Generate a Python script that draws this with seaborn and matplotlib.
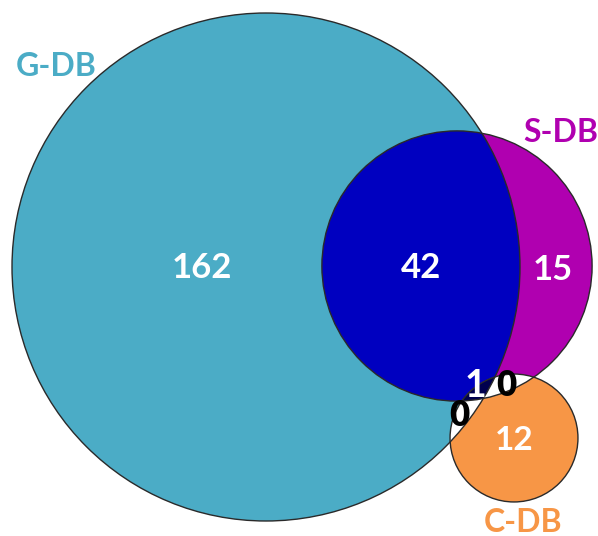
import numpy as np
import matplotlib
matplotlib.use("Agg")
import matplotlib.pyplot as plt
from matplotlib.patches import Circle, Polygon
import seaborn as sns

# region counts of the three databases
set_names = ["G-DB", "S-DB", "C-DB"]
only_g = 162
g_s = 42
only_s = 15
g_s_c = 1
s_c = 0
g_c = 0
only_c = 12

set_colors = ["#4BACC6", "#B000B0", "#F79646"]
gs_color = "#0000C0"
gsc_color = "#00004E"

# circle totals -> radius proportional to sqrt(size)
totals = [only_g + g_s + g_s_c + g_c,
          only_s + g_s + g_s_c + s_c,
          only_c + g_c + g_s_c + s_c]
scale = 17.74
radii = [scale * np.sqrt(t) for t in totals]
centers = [(266, 267), (457, 266), (514, 438)]

sns.set_theme(style="white")
plt.rcParams['font.family'] = ['Lato', 'DejaVu Sans']

fig = plt.figure(figsize=(5.98, 5.36), dpi=100)
ax = fig.add_axes([0, 0, 1, 1])
ax.set_xlim(0, 598)
ax.set_ylim(536, 0)
ax.axis("off")


def circ(i, **kw):
    return Circle(centers[i], radii[i], transform=ax.transData, **kw)


g_clip = circ(0)
s_clip = circ(1)

ax.add_patch(circ(0, facecolor=set_colors[0], edgecolor="none"))
ax.add_patch(circ(1, facecolor=set_colors[1], edgecolor="none"))
p = ax.add_patch(circ(1, facecolor=gs_color, edgecolor="none"))
p.set_clip_path(g_clip)
ax.add_patch(circ(2, facecolor=set_colors[2], edgecolor="none"))
p = ax.add_patch(circ(2, facecolor="white", edgecolor="none"))
p.set_clip_path(g_clip)
p = ax.add_patch(circ(2, facecolor="white", edgecolor="none"))
p.set_clip_path(s_clip)

# lens of S and C, then clipped to G -> triple overlap
t = np.linspace(0, 2 * np.pi, 2000)
cs, rs = np.array(centers[1]), radii[1]
cc, rc = np.array(centers[2]), radii[2]
pc = cc + rc * np.c_[np.cos(t), np.sin(t)]
ps = cs + rs * np.c_[np.cos(t), np.sin(t)]
pts = np.vstack([pc[np.linalg.norm(pc - cs, axis=1) <= rs],
                 ps[np.linalg.norm(ps - cc, axis=1) <= rc]])
m = pts.mean(axis=0)
pts = pts[np.argsort(np.arctan2(pts[:, 1] - m[1], pts[:, 0] - m[0]))]
lens = ax.add_patch(Polygon(pts, closed=True, facecolor=gsc_color, edgecolor="none"))
lens.set_clip_path(g_clip)

for i in range(3):
    ax.add_patch(circ(i, fill=False, edgecolor="#2a2a2a", linewidth=1.0))

# numbers
txt = dict(ha="center", va="center", fontweight="bold")
ax.text(202, 268, str(only_g), color="white", fontsize=25, **txt)
ax.text(421, 268, str(g_s), color="white", fontsize=25, **txt)
ax.text(553, 270, str(only_s), color="white", fontsize=25, **txt)
ax.text(514, 441, str(only_c), color="white", fontsize=24, **txt)
ax.text(475, 386, str(g_s_c), color="white", fontsize=27, **txt)
ax.text(506, 386, str(s_c), color="black", fontsize=25, ha="center", va="center", fontweight="heavy")
ax.text(459, 415, str(g_c), color="black", fontsize=25, ha="center", va="center", fontweight="heavy")

# set labels
ax.text(56, 66, set_names[0], color=set_colors[0], fontsize=23, **txt)
ax.text(561, 133, set_names[1], color=set_colors[1], fontsize=23, **txt)
ax.text(523, 522, set_names[2], color=set_colors[2], fontsize=23, **txt)

fig.savefig("out.png", dpi=100)
